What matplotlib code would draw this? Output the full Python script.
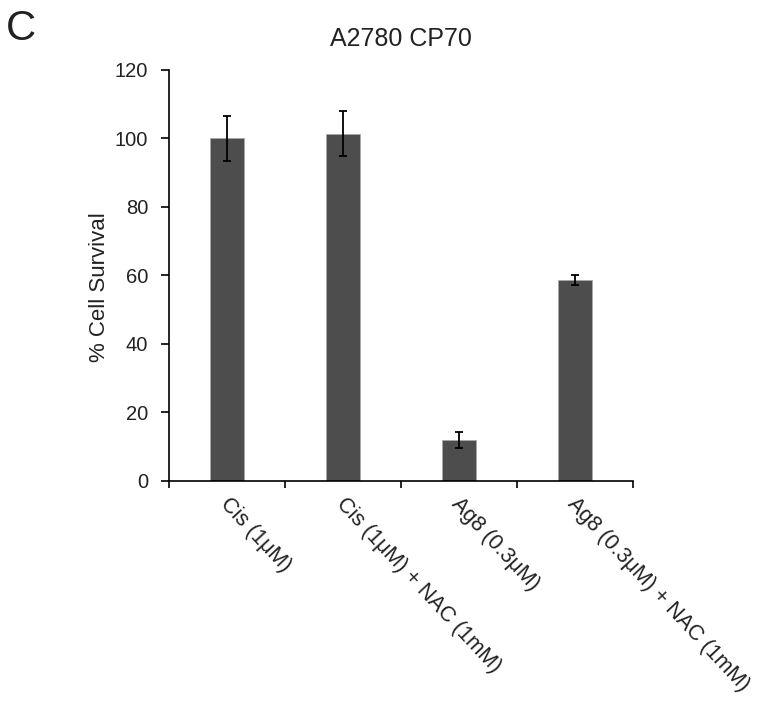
#!/usr/bin/env python3
# Bar chart: % cell survival in A2780 CP70 with/without NAC (panel C).

import numpy as np
import matplotlib
matplotlib.use("Agg")
import matplotlib.pyplot as plt
from matplotlib.transforms import ScaledTranslation

plt.rcParams["font.family"] = ["Liberation Sans", "DejaVu Sans"]
TEXT_COLOR = "#222222"

# ---------------------------------------------------------------------------
# Data
# ---------------------------------------------------------------------------

categories = [
    "Cis (1\u03bcM)",
    "Cis (1\u03bcM) + NAC (1mM)",
    "Ag8 (0.3\u03bcM)",
    "Ag8 (0.3\u03bcM) + NAC (1mM)",
]
survival = [100.0, 101.4, 11.9, 58.6]
survival_err = [6.7, 6.5, 2.4, 1.4]
y_ticks = [0, 20, 40, 60, 80, 100, 120]

# ---------------------------------------------------------------------------
# Chart
# ---------------------------------------------------------------------------

fig = plt.figure(figsize=(7.57, 7.09), dpi=100)
ax = fig.add_axes([0.2232, 0.3216, 0.6126, 0.5797])

x = np.arange(len(categories)) + 0.5
ax.bar(x, survival, width=0.29, color="#4d4d4d", edgecolor="#a8a8a8",
       linewidth=0.6, zorder=2)
ax.errorbar(x, survival, yerr=survival_err, fmt="none", ecolor="black",
            elinewidth=1.3, capsize=3, capthick=1.3, zorder=3)

ax.set_xlim(0, len(categories))
ax.set_ylim(0, 120)
ax.set_yticks(y_ticks)
ax.tick_params(axis="y", labelsize=14.5, length=6, width=1.2,
               direction="out", pad=9, labelcolor=TEXT_COLOR)

# category boundary ticks, labels placed at bar centres
ax.set_xticks(np.arange(len(categories) + 1))
ax.set_xticklabels([])
ax.set_xticks(x, minor=True)
ax.set_xticklabels(categories, minor=True)
ax.tick_params(axis="x", which="major", length=5, width=1.2, direction="out")
ax.tick_params(axis="x", which="minor", length=0, labelsize=15.5, pad=9,
               labelcolor=TEXT_COLOR)
offset = ScaledTranslation(4 / 100, 0, fig.dpi_scale_trans)
for lbl in ax.get_xticklabels(minor=True):
    lbl.set_rotation(-47)
    lbl.set_ha("left")
    lbl.set_va("top")
    lbl.set_rotation_mode("anchor")
    lbl.set_transform(lbl.get_transform() + offset)

for side in ("top", "right"):
    ax.spines[side].set_visible(False)
for side in ("left", "bottom"):
    ax.spines[side].set_linewidth(1.2)

ax.set_ylabel("% Cell Survival", fontsize=16, color=TEXT_COLOR)
ax.yaxis.set_label_coords(-0.128, 0.472)
ax.set_title("A2780 CP70", fontsize=18, pad=17, color=TEXT_COLOR)

fig.text(0.008, 0.988, "C", fontsize=30, ha="left", va="top",
         color=TEXT_COLOR)

fig.savefig("out.png", dpi=100)
